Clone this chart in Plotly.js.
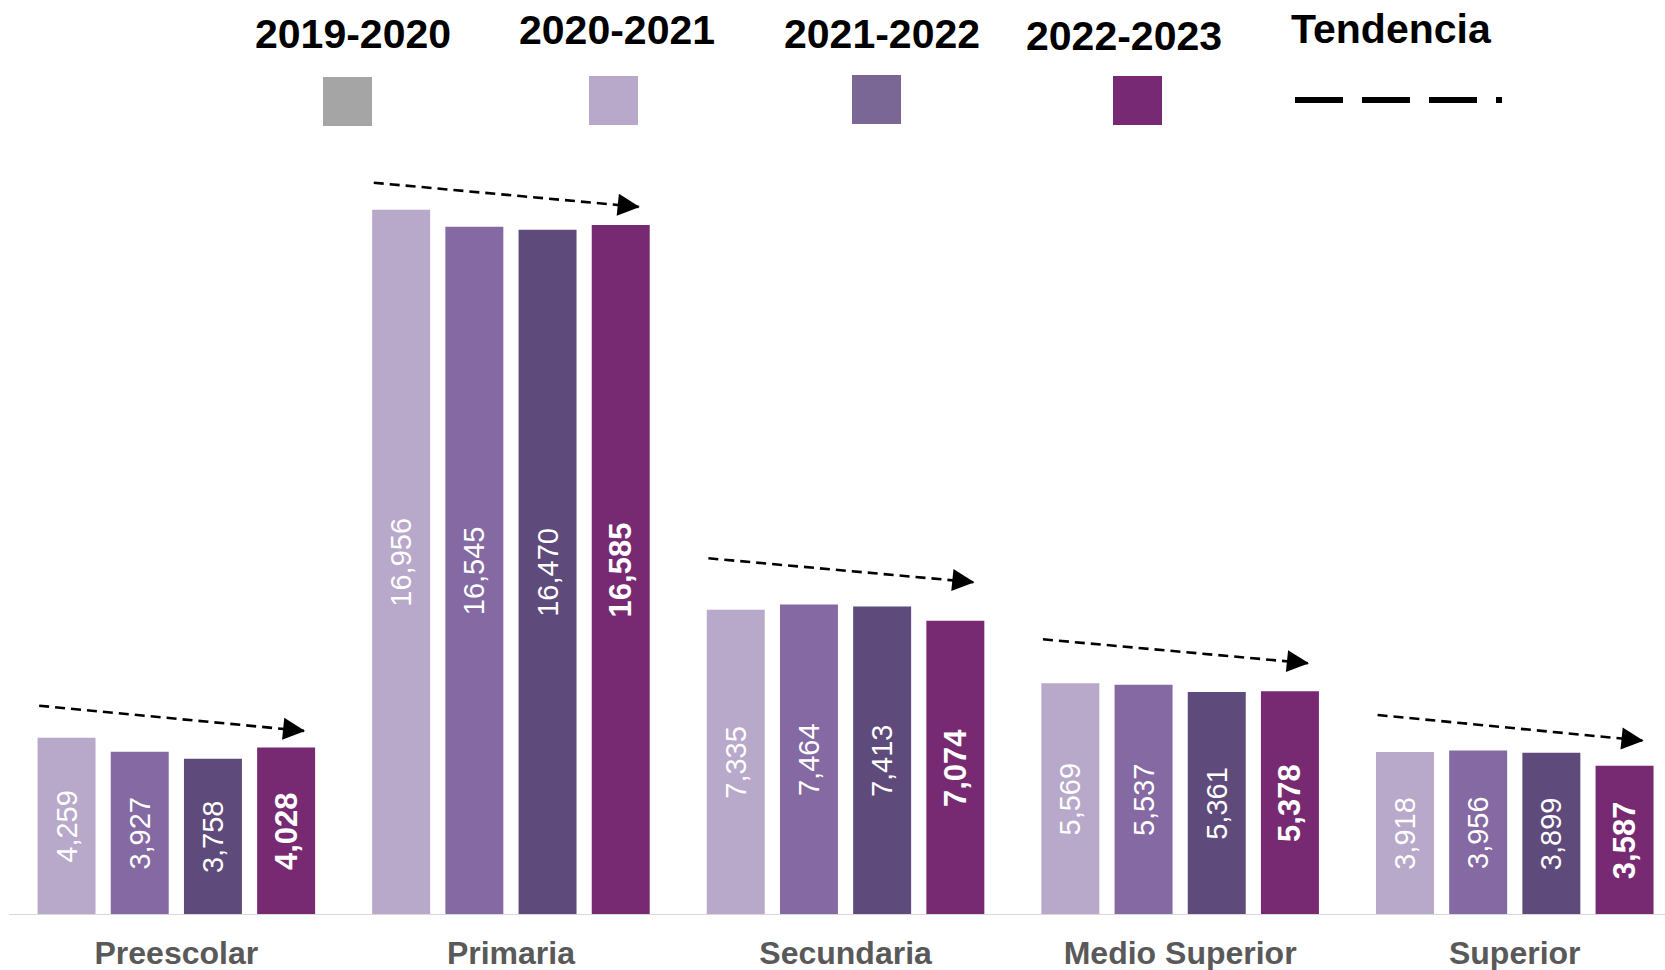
<!DOCTYPE html>
<html>
<head>
<meta charset="utf-8">
<script src="https://cdn.plot.ly/plotly-3.0.1.min.js"></script>
<style>html,body{margin:0;padding:0;background:#fff;}#chart{width:1665px;height:970px;}</style>
</head>
<body>
<div id="chart"></div>
<script>
// ---- data ----
const categories = ["Preescolar", "Primaria", "Secundaria", "Medio Superior", "Superior"];
const seriesNames = ["2019-2020", "2020-2021", "2021-2022", "2022-2023"];
const v2019 = [4259, 16956, 7335, 5569, 3918];
const v2020 = [3927, 16545, 7464, 5537, 3956];
const v2021 = [3758, 16470, 7413, 5361, 3899];
const v2022 = [4028, 16585, 7074, 5378, 3587];
// trend arrow heights (data units)
const trendFrom = [5031, 17603, 8575, 6627, 4808];
const trendTo   = [4423, 17020, 7998, 6050, 4190];
const legendLabel = "Tendencia";

// ---- styles ----
const barColors = ["#b8a8ca", "#8469a3", "#5f4a7c", "#772a72"];
const legendColors = ["#a5a5a5", "#b8a8ca", "#7b6795", "#772a73"];
const FONT = "Liberation Sans, Arial, sans-serif";
const W = 1665, H = 970, PLOT_BOTTOM = 915;

const values = [v2019, v2020, v2021, v2022];
const traces = values.map((vals, i) => ({
  type: "bar",
  name: seriesNames[i],
  x: categories,
  y: vals,
  marker: {color: barColors[i]},
  texttemplate: "%{y:,.0f}",
  textposition: "inside",
  insidetextanchor: "middle",
  textangle: -90,
  constraintext: "none",
  textfont: {family: FONT, color: "#ffffff", size: i === 3 ? 31 : 29, weight: i === 3 ? "bold" : "normal"},
  hoverinfo: "skip",
  cliponaxis: false
}));

const px2x = p => p / W;
const py2y = p => (PLOT_BOTTOM - p) / PLOT_BOTTOM;

const shapes = [];
const annotations = [];

// baseline
shapes.push({type: "line", xref: "x", yref: "y", x0: -0.5, x1: 4.6, y0: 0, y1: 0,
  line: {color: "#d9d9d9", width: 2}});

// trend arrows
categories.forEach((c, i) => {
  const xs = i - 0.41, xe = i + 0.385;
  shapes.push({type: "line", xref: "x", yref: "y", x0: xs, x1: xe, y0: trendFrom[i], y1: trendTo[i],
    line: {color: "#000000", width: 2.6, dash: "10px,6px"}});
  annotations.push({xref: "x", yref: "y", x: xe, y: trendTo[i], text: "", showarrow: true,
    arrowhead: 2, arrowsize: 1.7, arrowwidth: 2.6, arrowcolor: "#000000",
    axref: "pixel", ayref: "pixel", ax: -16, ay: -1.6});
});

// custom legend
const legTextPos = [[352.7, 34], [617, 30.5], [882, 34], [1124, 35.5]];
const legBoxPos = [[323, 77], [589, 76], [852, 75], [1113, 76]];
seriesNames.forEach((n, i) => {
  annotations.push({xref: "paper", yref: "paper", x: px2x(legTextPos[i][0]), y: py2y(legTextPos[i][1]),
    xanchor: "center", yanchor: "middle", showarrow: false, text: n,
    font: {family: FONT, size: 41, color: "#000000", weight: "bold"}});
  shapes.push({type: "rect", xref: "paper", yref: "paper",
    x0: px2x(legBoxPos[i][0]), x1: px2x(legBoxPos[i][0] + 49),
    y0: py2y(legBoxPos[i][1]), y1: py2y(legBoxPos[i][1] + 49),
    fillcolor: legendColors[i], line: {width: 0}});
});
annotations.push({xref: "paper", yref: "paper", x: px2x(1391.7), y: py2y(29),
  xanchor: "center", yanchor: "middle", showarrow: false, text: legendLabel,
  font: {family: FONT, size: 41, color: "#000000", weight: "bold"}});
shapes.push({type: "line", xref: "paper", yref: "paper", x0: px2x(1295), x1: px2x(1502),
  y0: py2y(100), y1: py2y(100), line: {color: "#000000", width: 6, dash: "48px,19px"}});

const layout = {
  width: W, height: H,
  margin: {l: 0, r: 0, t: 0, b: H - PLOT_BOTTOM, pad: 0},
  paper_bgcolor: "#ffffff", plot_bgcolor: "#ffffff",
  barmode: "group", bargap: 0.125, bargroupgap: 0.208,
  showlegend: false,
  xaxis: {type: "category", range: [-0.527, 4.449], showgrid: false, zeroline: false, showline: false,
    ticks: "", ticklabelstandoff: 16,
    tickfont: {family: FONT, size: 32, color: "#595959", weight: "bold"}, fixedrange: true},
  yaxis: {range: [0, PLOT_BOTTOM / 0.0416], visible: false, showgrid: false, zeroline: false, fixedrange: true},
  shapes: shapes,
  annotations: annotations,
  font: {family: FONT}
};

Plotly.newPlot("chart", traces, layout, {displayModeBar: false, staticPlot: true});
</script>
</body>
</html>
